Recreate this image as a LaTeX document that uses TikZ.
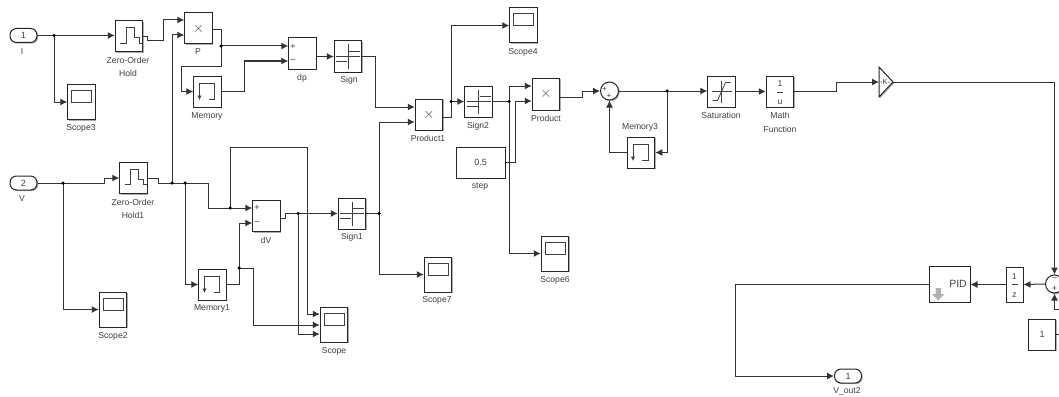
\documentclass[tikz,border=0pt]{standalone}
\usepackage{fontspec}
\setmainfont{Liberation Sans}
\usetikzlibrary{arrows.meta,calc,positioning,shadows}
\definecolor{wirec}{gray}{0.2}
\definecolor{labelc}{gray}{0.25}
\tikzset{
  x=1pt,y=-1pt,
  wire/.style={draw=wirec,line width=1pt,-{Latex[length=7pt,width=7pt]}},
  wirep/.style={draw=wirec,line width=1pt},
  blockbox/.style={draw=black!85,fill=white,line width=1pt,inner sep=0pt,
     drop shadow={shadow xshift=1.2pt,shadow yshift=-1.2pt,fill=black!45,opacity=.7},
     font=\fontsize{9}{10}\selectfont,text=labelc},
  ws/.style={blockbox,minimum width=27.5pt,minimum height=31pt},
  xb/.style={ws,font=\fontsize{14}{14}\selectfont},
  scopeb/.style={blockbox,minimum width=27.5pt,minimum height=35pt},
  portb/.style={blockbox,rounded corners=6.5pt,minimum width=27pt,minimum height=14pt},
  sumb/.style={draw=black!85,fill=white,line width=1pt,circle,minimum size=18pt,inner sep=0pt,
     drop shadow={shadow xshift=1.2pt,shadow yshift=-1.2pt,fill=black!45,opacity=.7}},
  lab/.style={font=\fontsize{8.6}{10}\selectfont,text=labelc,inner sep=0pt},
  dotj/.style={circle,fill=black,inner sep=0pt,minimum size=3.5pt},
  icon/.style={draw=black!75,line width=0.8pt},
}
\newcommand{\hatch}[1]{\draw[icon] ($(#1)+(-9,6.5)$)--($(#1)+(-3,6.5)$)--($(#1)+(-3,-9)$)--($(#1)+(5,-9)$)--($(#1)+(5,1)$)--($(#1)+(10,1)$)--($(#1)+(10,6.5)$)--($(#1)+(13,6.5)$);}
\newcommand{\signi}[1]{\draw[icon] ($(#1)+(-12,0)$)--($(#1)+(12,0)$) ($(#1)+(0,-12)$)--($(#1)+(0,12)$);
  \draw[icon] ($(#1)+(1,-5)$)--($(#1)+(12,-5)$) ($(#1)+(-12,5)$)--($(#1)+(-1,5)$);}
\newcommand{\memi}[1]{\draw[icon] ($(#1)+(-8,4)$)--($(#1)+(-8,-8)$)--($(#1)+(7,-8)$)--($(#1)+(7,8)$)--($(#1)+(1,8)$);
  \draw[icon,-{Latex[length=4.5pt,width=4.5pt]}] ($(#1)+(-8,2)$)--($(#1)+(-8,8.5)$);}
\newcommand{\scopei}[1]{\draw[icon,line width=1pt] ($(#1)+(-10,-11.5)$) rectangle ($(#1)+(10,0.5)$);}
\begin{document}
\begin{tikzpicture}
\useasboundingbox[fill=white] (0,0) rectangle (1059,396);
\begin{scope}
\clip (0,0) rectangle (1059,396);
% ---- blocks
\node[portb] (I) at (23.5,35.5) {1};
\node[lab] (Il) at (22,52) {I};
\node[portb] (V) at (23.5,183) {2};
\node[lab] (Vl) at (22,199) {V};
\node[ws] (ZOH) at (129,36.5) {};
\node[lab] (ZOHl) at (128,60) {Zero-Order};
\node[lab] (ZOHm) at (128,73) {Hold};
\node[ws] (ZOHb) at (133.5,178) {};
\node[lab] (ZOHbl) at (133,202) {Zero-Order};
\node[lab] (ZOHbm) at (133,215) {Hold1};
\node[scopeb] (Sc3) at (81.5,102) {};
\node[lab] (Sc3l) at (81,128) {Scope3};
\node[scopeb] (Sc2) at (113,309.5) {};
\node[lab] (Sc2l) at (113,336) {Scope2};
\node[xb] (P) at (198.5,28.5) {$\times$};
\node[lab] (Pl) at (198,52) {P};
\node[ws] (Mem) at (207.5,91.5) {};
\node[lab] (Meml) at (207,116) {Memory};
\node[ws] (dp) at (302.5,53.5) {};
\node[lab] (dpl) at (302,78) {dp};
\node[ws] (Sign) at (348,56.5) {};
\node[lab] (Signl) at (349,80) {Sign};
\node[ws] (dV) at (266.5,216) {};
\node[lab] (dVl) at (266,240) {dV};
\node[ws] (Mem1) at (212.5,284.5) {};
\node[lab] (Mem1l) at (212,308) {Memory1};
\node[ws] (Sign1) at (352,213.5) {};
\node[lab] (Sign1l) at (352,237) {Sign1};
\node[scopeb] (Sc) at (334,324.5) {};
\node[lab] (Scl) at (334,351) {Scope};
\node[scopeb] (Sc7) at (438,274.5) {};
\node[lab] (Sc7l) at (437,300) {Scope7};
\node[xb] (Pr1) at (429,114.5) {$\times$};
\node[lab] (Pr1l) at (428,138) {Product1};
\node[ws] (Sign2) at (478.5,101.5) {};
\node[lab] (Sign2l) at (478,126) {Sign2};
\node[scopeb] (Sc4) at (523.5,25.5) {};
\node[lab] (Sc4l) at (523,52) {Scope4};
\node[xb,minimum height=32pt] (Pr) at (546,94) {$\times$};
\node[lab] (Prl) at (546,118) {Product};
\node[blockbox,minimum width=49pt,minimum height=31pt] (step) at (480.5,162.5) {0.5};
\node[lab] (stepl) at (480,187) {step};
\node[scopeb] (Sc6) at (555,253.5) {};
\node[lab] (Sc6l) at (555,280) {Scope6};
\node[sumb] (S1) at (609.5,91) {};
\node[ws] (Mem3) at (641,152.5) {};
\node[lab] (Mem3l) at (640,127) {Memory3};
\node[ws] (Sat) at (721.5,91.5) {};
\node[lab] (Satl) at (721,115) {Saturation};
\node[ws] (Math) at (780,91.5) {};
\node[lab] (Mathl) at (780,115) {Math};
\node[lab] (Mathm) at (780,129) {Function};
\draw[draw=black!85,fill=white,line width=1pt,drop shadow={shadow xshift=1.2pt,shadow yshift=-1.2pt,fill=black!45,opacity=.7}] (879,67)--(893,82)--(879,97)--cycle;
\coordinate (Gin) at (879,82);
\coordinate (Gout) at (893,82);
\node[font=\fontsize{7.5}{8}\selectfont,text=labelc,inner sep=0pt] (Gt) at (885,82) {-K-};
\node[sumb] (S2) at (1054.5,284) {};
\node[ws,minimum width=17pt,minimum height=35pt] (Z) at (1014.5,284.5) {};
\node[blockbox,minimum width=41pt,minimum height=36pt] (PID) at (949.5,284) {};
\node[ws] (C1) at (1042,334.5) {1};
\node[portb] (Out) at (848,376) {1};
\node[lab] (Outl) at (847,391) {V\_out2};
% ---- icons
\foreach \c in {ZOH,ZOHb}{\hatch{\c}}
\foreach \c in {Sc3,Sc2,Sc,Sc7,Sc4,Sc6}{\scopei{\c}}
\foreach \c in {Sign,Sign1,Sign2}{\signi{\c}}
\foreach \c in {Mem,Mem1,Mem3}{\memi{\c}}
\node[lab,font=\fontsize{9}{10}\selectfont] (dpp) at (293,46.5) {+};
\node[lab,font=\fontsize{9}{10}\selectfont] (dpm) at (293,61) {–};
\node[lab,font=\fontsize{9}{10}\selectfont] (dVp) at (257,208) {+};
\node[lab,font=\fontsize{9}{10}\selectfont] (dVm) at (257,223) {–};
\node[lab,font=\fontsize{8}{9}\selectfont] (s1a) at (604.5,89) {+};
\node[lab,font=\fontsize{8}{9}\selectfont] (s1b) at (609,96.5) {+};
\node[lab,font=\fontsize{9}{9}\selectfont] (s2a) at (1054.5,279) {–};
\node[lab,font=\fontsize{9}{9}\selectfont] (s2b) at (1054.5,289) {+};
\draw[icon] ($(Sat)+(-9,9)$)--($(Sat)+(-4,9)$)--($(Sat)+(4,-9)$)--($(Sat)+(9,-9)$);
\draw[icon] ($(Sat)+(-10,0)$)--($(Sat)+(10,0)$) ($(Sat)+(0,-11)$)--($(Sat)+(0,11)$);
\draw[icon] ($(Math)+(-3,0.5)$)--($(Math)+(3,0.5)$);
\node[lab,font=\fontsize{8.5}{9}\selectfont] (mn) at ($(Math)+(0,-7.5)$) {1};
\node[lab,font=\fontsize{8.5}{9}\selectfont] (md) at ($(Math)+(0,11)$) {u};
\draw[icon] ($(Z)+(-3,0)$)--($(Z)+(3,0)$);
\node[lab,font=\fontsize{8.5}{9}\selectfont] (zn) at ($(Z)+(0,-8)$) {1};
\node[lab,font=\fontsize{8.5}{9}\selectfont] (zd) at ($(Z)+(0,11)$) {z};
\node[lab,font=\fontsize{10.5}{11}\selectfont] (pidt) at (958,284) {PID};
\fill[black!30] (935.5,288)--(941,288)--(941,294)--(944.5,294)--(938.2,300.5)--(932,294)--(935.5,294)--cycle;
% ---- junctions
\coordinate (jI) at (54,35.5);
\coordinate (jV) at (63,183);
\coordinate (jA) at (172,183);
\coordinate (jB) at (185,183);
\coordinate (jC) at (230,208);
\coordinate (jD) at (298,213.5);
\coordinate (jE) at (239,268);
\coordinate (jF) at (221,46);
\coordinate (jG) at (379,213.5);
\coordinate (jH) at (451,101.5);
\coordinate (jJ) at (509,101.5);
\coordinate (jK) at (667,91);
% ---- wires
\draw[wire] (I.east) -- (ZOH.west |- I.east);
\draw[wire] (jI) |- (Sc3.west);
\draw[wire] (ZOH.east) -- ++(4,0) |- (163,41) |- ([yshift=8.5pt]P.west);
\draw[wire] (V.east) -- (104,183) -- (104,178) -- (ZOHb.west);
\draw[wire] (jV) |- (Sc2.west);
\draw[wire] (ZOHb.east) -- (158,178) -- (158,183) -- (208,183) -- (208,208) -- ([yshift=8pt]dV.west);
\draw[wire] (jA) |- ([yshift=-6.5pt]P.west);
\draw[wire] (jB) |- (Mem1.west);
\draw[wire] ([yshift=-1.5pt]P.east) -- (221,30) -- (jF) -- ([yshift=7.5pt]dp.west);
\draw[wire] (jF) -- (221,66) -- (181,66) |- (Mem.west);
\draw[wire] (Mem.east) -- (244,91.5) |- ([yshift=-7.5pt]dp.west);
\draw[wire] ([yshift=-3pt]dp.east) -- (Sign.west);
\draw[wire] (Mem1.east) -- (239,284.5) |- ([yshift=-7pt]dV.west);
\draw[wire] (jE) -- (253,268) |- ([yshift=-0.5pt]Sc.west);
\draw[wire] (jC) -- (230,147) -- (307,147) |- ([yshift=10.5pt]Sc.west);
\draw[wire] (jD) |- ([yshift=-9.5pt]Sc.west);
\draw[wire] ([yshift=-2pt]dV.east) -- (285,218) -- (285,213.5) -- (Sign1.west);
\draw[wire] (Sign1.east) -- (379,213.5) -- (379,122) -- ([yshift=-7.5pt]Pr1.west);
\draw[wire] (jG) |- (Sc7.west);
\draw[wirep] (Sign.east) -- (375,56.5);
\draw[wire] (375,56.5) |- ([yshift=7.5pt]Pr1.west);
\draw[wirep] ([yshift=-2.5pt]Pr1.east) -- (451,117) -- (jH);
\draw[wire] (jH) -- (Sign2.west);
\draw[wire] (jH) |- (Sc4.west);
\draw[wire] (Sign2.east) -- (509,101.5) |- ([yshift=8pt]Pr.west);
\draw[wire] (step.east) -- (515,162.5) |- ([yshift=-7pt]Pr.west);
\draw[wire] (jJ) |- (Sc6.west);
\draw[wire] ([yshift=-3pt]Pr.east) -- (582,97) -- (582,91) -- (S1.west);
\draw[wirep] (S1.east) -- (jK);
\draw[wire] (jK) -- (Sat.west |- jK);
\draw[wire] (jK) -- (667,152.5) -- (Mem3.east);
\draw[wire] (Mem3.west) -| (S1.south);
\draw[wire] (Sat.east) -- (Math.west);
\draw[wire] (Math.east) -- (836,91.5) -- (836,82) -- (Gin);
\draw[wire] (Gout) -- (1054.5,82) -- (S2.north);
\draw[wire] (1062,309) -- (1054.5,309) -- (S2.south);
\draw[wirep] (C1.east) -- (1062,334.5);
\draw[wire] (S2.west) -- (1023.5,284.5);
\draw[wire] (Z.west) -- (PID.east |- Z.west);
\draw[wire] (PID.west) -- (735,284) |- (Out.west);
% dots
\foreach \j in {jI,jV,jA,jB,jC,jD,jE,jF,jG,jH,jJ,jK}{\node[dotj] at (\j) {};}
\end{scope}
\end{tikzpicture}
\end{document}
